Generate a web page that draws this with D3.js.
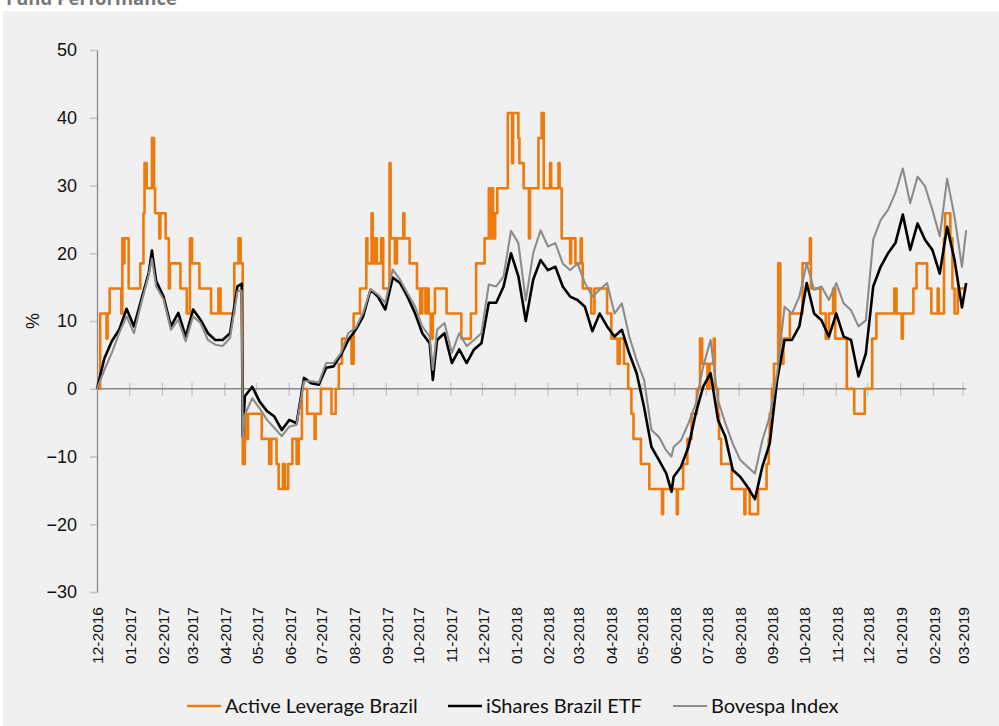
<!DOCTYPE html>
<html>
<head>
<meta charset="utf-8">
<script src="https://cdn.jsdelivr.net/npm/d3@7"></script>
<style>
  body { margin: 0; background: #fff; }
  svg { display: block; }
</style>
</head>
<body>
<div id="chart"></div>
<script>
const parseDate = d3.timeParse("%Y-%m-%d");

// Cumulative performance in %, weekly readings starting 2016-12-01
const weeklyStart = "2016-12-01";
const weeklyCount = 118;

const ishares = [
  0, 4.5, 7.0, 8.7, 11.8, 9.2, 13.2, 17.1, 15.9, 13.6,
  9.2, 11.2, 7.7, 11.7, 10.2, 8.2, 7.2, 7.2, 8.2, 15.1,
  -1.1, 0.3, -1.9, -3.3, -4.1, -6.1, -4.6, -5.1, 1.6, 0.8,
  0.6, 3.1, 3.3, 5.0, 7.2, 8.7, 10.7, 14.6, 13.6, 11.7,
  16.4, 15.6, 13.6, 11.2, 8.2, 6.7, 7.2, 8.2, 3.8, 5.8,
  3.8, 5.8, 6.7, 12.7, 12.7, 15.1, 20.0, 16.6, 10.0, 16.1,
  19.0, 17.5, 18.0, 15.1, 13.6, 13.1, 12.1, 8.5, 11.1, 9.2,
  7.7, 8.7, 5.2, 2.3, -2.7, -8.6, -10.5, -12.5, -13.0, -11.5,
  -8.6, -3.6, 0.3, 2.3, -4.6, -7.1, -12.0, -13.0, -14.5, -16.3,
  -11.5, -8.1, 1.3, 7.2, 7.2, 9.2, 15.6, 11.1, 10.1, 7.7,
  11.1, 7.7, 7.2, 1.8, 5.2, 15.1, 18.0, 20.0, 21.5, 25.7,
  20.5, 24.4, 22.0, 20.5, 17.0, 23.9, 19.0, 12.0
];

const bovespa = [
  0, 2.8, 5.3, 8.2, 10.7, 8.2, 12.7, 16.8, 15.1, 13.2,
  8.7, 10.2, 7.0, 10.7, 9.7, 7.2, 6.5, 6.3, 7.5, 14.4,
  -3.8, -1.4, -2.9, -4.6, -5.8, -7.0, -5.6, -5.3, 1.1, 1.1,
  0.9, 3.8, 3.8, 5.3, 8.2, 9.0, 11.2, 14.7, 13.9, 12.7,
  17.6, 16.1, 14.1, 12.2, 9.2, 7.7, 8.7, 9.7, 5.3, 8.2,
  6.3, 7.2, 8.2, 15.4, 15.1, 16.6, 23.3, 21.5, 13.0, 20.0,
  23.4, 21.0, 21.5, 18.5, 17.5, 18.5, 15.6, 13.6, 14.6, 15.6,
  11.1, 12.6, 7.7, 4.2, 1.3, -6.1, -7.1, -9.1, -8.6, -7.6,
  -5.1, -2.2, 3.3, 7.2, -1.7, -5.1, -8.1, -10.5, -11.5, -12.5,
  -7.6, -4.1, 2.3, 12.1, 11.1, 13.6, 18.5, 14.6, 15.1, 13.1,
  15.6, 12.6, 11.6, 9.2, 10.1, 22.0, 24.9, 26.4, 28.9, 32.5,
  27.4, 31.3, 29.9, 26.4, 22.5, 31.0, 25.4, 18.0
];

// off-grid days: peaks and troughs the weekly grid misses, the April 2017 crash, the last close
const extraDates = ["2017-01-22", "2017-04-17", "2017-04-18", "2017-10-15", "2018-05-29", "2019-03-04"];
const isharesExtra = [20.4, 15.5, -7.0, 1.3, -15.2, 15.6];
const bovespaExtra = [19.2, 14.5, -7.5, 2.8, -10.0, 23.4];

// the leveraged fund only moves in steps, so just the days it changed
const activeSteps = [
  ["2016-12-01", 0], ["2016-12-04", 11.1], ["2016-12-10", 7.4], ["2016-12-11", 11.1],
  ["2016-12-13", 14.8], ["2016-12-24", 11.1], ["2016-12-25", 22.2], ["2016-12-26", 18.5],
  ["2016-12-27", 22.2], ["2016-12-31", 14.8], ["2017-01-11", 18.5], ["2017-01-14", 25.9],
  ["2017-01-15", 33.3], ["2017-01-17", 29.6], ["2017-01-22", 37.0], ["2017-01-24", 29.6],
  ["2017-01-25", 25.9], ["2017-01-29", 22.2], ["2017-01-30", 25.9], ["2017-02-04", 22.2],
  ["2017-02-07", 14.8], ["2017-02-08", 18.5], ["2017-02-18", 14.8], ["2017-02-24", 11.1],
  ["2017-02-27", 22.2], ["2017-03-01", 18.5], ["2017-03-08", 14.8], ["2017-03-19", 11.1],
  ["2017-03-26", 14.8], ["2017-03-28", 11.1], ["2017-04-10", 18.5], ["2017-04-14", 22.2],
  ["2017-04-16", 18.5], ["2017-04-18", -11.1], ["2017-04-20", -3.7], ["2017-04-22", -7.4],
  ["2017-04-23", -3.7], ["2017-05-06", -7.4], ["2017-05-13", -11.1], ["2017-05-15", -7.4],
  ["2017-05-20", -11.1], ["2017-05-22", -14.8], ["2017-05-26", -11.1], ["2017-05-28", -14.8],
  ["2017-05-31", -11.1], ["2017-06-04", -7.4], ["2017-06-08", -11.1], ["2017-06-10", -7.4],
  ["2017-06-13", 0], ["2017-06-18", -3.7], ["2017-06-25", -7.4], ["2017-06-26", -3.7],
  ["2017-07-01", 0], ["2017-07-11", -3.7], ["2017-07-15", 0], ["2017-07-18", 3.7],
  ["2017-07-21", 7.4], ["2017-07-30", 3.7], ["2017-08-01", 11.1], ["2017-08-07", 14.8],
  ["2017-08-13", 22.2], ["2017-08-14", 18.5], ["2017-08-18", 25.9], ["2017-08-19", 18.5],
  ["2017-08-21", 22.2], ["2017-08-23", 18.5], ["2017-08-27", 22.2], ["2017-08-29", 14.8],
  ["2017-09-04", 33.3], ["2017-09-05", 22.2], ["2017-09-09", 18.5], ["2017-09-11", 22.2],
  ["2017-09-17", 25.9], ["2017-09-18", 22.2], ["2017-09-23", 18.5], ["2017-09-30", 14.8],
  ["2017-10-03", 11.1], ["2017-10-05", 14.8], ["2017-10-08", 11.1], ["2017-10-09", 14.8],
  ["2017-10-11", 11.1], ["2017-10-13", 7.4], ["2017-10-15", 11.1], ["2017-10-17", 14.8],
  ["2017-10-28", 11.1], ["2017-11-11", 7.4], ["2017-11-20", 11.1], ["2017-11-25", 18.5],
  ["2017-12-03", 22.2], ["2017-12-07", 29.6], ["2017-12-08", 22.2], ["2017-12-10", 29.6],
  ["2017-12-11", 22.2], ["2017-12-13", 25.9], ["2017-12-15", 29.6], ["2017-12-25", 40.7],
  ["2017-12-29", 33.3], ["2017-12-30", 40.7], ["2018-01-04", 37.0], ["2018-01-05", 33.3],
  ["2018-01-09", 29.6], ["2018-01-14", 22.2], ["2018-01-15", 29.6], ["2018-01-23", 37.0],
  ["2018-01-26", 40.7], ["2018-01-28", 29.6], ["2018-02-03", 33.3], ["2018-02-04", 29.6],
  ["2018-02-11", 33.3], ["2018-02-12", 29.6], ["2018-02-14", 22.2], ["2018-02-22", 18.5],
  ["2018-02-23", 22.2], ["2018-02-27", 18.5], ["2018-03-04", 22.2], ["2018-03-05", 18.5],
  ["2018-03-06", 14.8], ["2018-03-14", 11.1], ["2018-03-17", 14.8], ["2018-03-29", 11.1],
  ["2018-04-02", 7.4], ["2018-04-08", 3.7], ["2018-04-10", 7.4], ["2018-04-14", 3.7],
  ["2018-04-18", 0], ["2018-04-21", -3.7], ["2018-04-23", -7.4], ["2018-04-30", -11.1],
  ["2018-05-08", -14.8], ["2018-05-20", -18.5], ["2018-05-21", -14.8], ["2018-06-03", -18.5],
  ["2018-06-04", -14.8], ["2018-06-09", -11.1], ["2018-06-13", -7.4], ["2018-06-17", -3.7],
  ["2018-06-22", 0], ["2018-06-25", 7.4], ["2018-06-27", 3.7], ["2018-07-02", 0],
  ["2018-07-04", 3.7], ["2018-07-08", 7.4], ["2018-07-09", 0], ["2018-07-12", -3.7],
  ["2018-07-13", -7.4], ["2018-07-15", -11.1], ["2018-07-25", -14.8], ["2018-08-06", -18.5],
  ["2018-08-07", -14.8], ["2018-08-11", -18.5], ["2018-08-19", -14.8], ["2018-08-27", -11.1],
  ["2018-08-29", -7.4], ["2018-08-30", -3.7], ["2018-09-01", 0], ["2018-09-03", 3.7],
  ["2018-09-07", 18.5], ["2018-09-09", 3.7], ["2018-09-12", 7.4], ["2018-09-18", 11.1],
  ["2018-09-30", 18.5], ["2018-10-07", 22.2], ["2018-10-08", 14.8], ["2018-10-17", 11.1],
  ["2018-10-22", 7.4], ["2018-10-25", 11.1], ["2018-10-29", 14.8], ["2018-10-31", 7.4],
  ["2018-11-11", 0], ["2018-11-18", -3.7], ["2018-11-28", 0], ["2018-12-05", 7.4],
  ["2018-12-09", 11.1], ["2018-12-26", 14.8], ["2018-12-28", 11.1], ["2019-01-02", 7.4],
  ["2019-01-03", 11.1], ["2019-01-13", 14.8], ["2019-01-16", 18.5], ["2019-01-26", 14.8],
  ["2019-01-30", 11.1], ["2019-02-05", 14.8], ["2019-02-06", 11.1], ["2019-02-11", 22.2],
  ["2019-02-12", 25.9], ["2019-02-17", 22.2], ["2019-02-19", 14.8], ["2019-02-21", 11.1],
  ["2019-02-24", 14.8], ["2019-03-03", 14.8]
];

const yTicks = [-30, -20, -10, 0, 10, 20, 30, 40, 50];
const xStart = "2016-12-01";
const xEnd = "2019-03-01";

const seriesNames = ["Active Leverage Brazil", "iShares Brazil ETF", "Bovespa Index"];
const seriesColors = ["#ee7a0c", "#000000", "#8c8c8c"];
const seriesWidths = [2.6, 2.6, 2.1];

const config = {
  width: 999,
  height: 726,
  margin: { top: 50, left: 97 },
  innerWidth: 866,
  innerHeight: 542,
  legendX: [187, 448, 673],
  legendY: 706,
};

// build the weekly grid + the extra days into one sorted list
function weeklySeries(values, extras) {
  const start = parseDate(weeklyStart);
  const pts = d3.range(weeklyCount).map((i) => ({
    date: d3.timeDay.offset(start, 7 * i),
    value: values[i],
  }));
  extraDates.forEach((d, i) => pts.push({ date: parseDate(d), value: extras[i] }));
  return pts.sort((a, b) => a.date - b.date);
}

const active = activeSteps.map(([d, v]) => ({ date: parseDate(d), value: v }));
const series = [active, weeklySeries(ishares, isharesExtra), weeklySeries(bovespa, bovespaExtra)];

const svg = d3
  .select("#chart")
  .append("svg")
  .attr("width", config.width)
  .attr("height", config.height);

// title, mostly hidden behind the top of the frame like in the source
svg
  .append("text")
  .attr("x", 6)
  .attr("y", 5)
  .attr("font-family", "'Open Sans', sans-serif")
  .attr("font-weight", "bold")
  .attr("font-size", 18.5)
  .attr("fill", "#777")
  .text("Fund Performance");

svg
  .append("rect")
  .attr("x", 3)
  .attr("y", 11)
  .attr("width", config.width - 3)
  .attr("height", config.height - 11)
  .attr("fill", "#f0f0f0");

const g = svg
  .append("g")
  .attr("transform", `translate(${config.margin.left},${config.margin.top})`);

const x = d3
  .scaleTime()
  .domain([parseDate(xStart), parseDate(xEnd)])
  .range([0, config.innerWidth]);

const y = d3.scaleLinear().domain([-30, 50]).range([config.innerHeight, 0]);

// y axis
const yAxis = g
  .append("g")
  .call(d3.axisLeft(y).tickValues(yTicks).tickSize(7).tickSizeOuter(0).tickPadding(13));
yAxis.select(".domain").attr("stroke", "#888").attr("stroke-width", 1.3);
yAxis.selectAll(".tick line").attr("stroke", "#c4c4c4").attr("stroke-width", 1.6);
yAxis
  .selectAll(".tick text")
  .attr("font-family", "'Liberation Sans', Arial, sans-serif")
  .attr("font-size", 18)
  .attr("fill", "#111");

svg
  .append("text")
  .attr("transform", "translate(33,321) rotate(-90)")
  .attr("text-anchor", "middle")
  .attr("dy", "0.35em")
  .attr("font-family", "'Liberation Sans', Arial, sans-serif")
  .attr("font-size", 18)
  .attr("fill", "#111")
  .text("%");

// zero line with month ticks
const months = d3.timeMonth.range(parseDate(xStart), d3.timeDay.offset(parseDate(xEnd), 1));
const y0 = y(0);

g.append("g")
  .selectAll("line")
  .data(months.slice(1))
  .join("line")
  .attr("x1", (d) => x(d))
  .attr("x2", (d) => x(d))
  .attr("y1", y0 - 6)
  .attr("y2", y0 + 7)
  .attr("stroke", "#c4c4c4")
  .attr("stroke-width", 1.3);

g.append("line")
  .attr("x1", 0)
  .attr("x2", x(parseDate("2019-03-04")))
  .attr("y1", y0)
  .attr("y2", y0)
  .attr("stroke", "#888")
  .attr("stroke-width", 1.3);

g.append("g")
  .selectAll("text")
  .data(months)
  .join("text")
  .attr("transform", (d) => `translate(${x(d) + 1},${config.innerHeight + 15}) rotate(-90)`)
  .attr("text-anchor", "end")
  .attr("dy", "0.35em")
  .attr("font-family", "'Liberation Sans', Arial, sans-serif")
  .attr("font-size", 15.5)
  .attr("fill", "#111")
  .text(d3.timeFormat("%m-%Y"));

// the three lines
const line = d3
  .line()
  .x((d) => x(d.date))
  .y((d) => y(d.value));

series.forEach((s, i) => {
  g.append("path")
    .datum(s)
    .attr("fill", "none")
    .attr("stroke", seriesColors[i])
    .attr("stroke-width", seriesWidths[i])
    .attr("stroke-linejoin", "round")
    .attr("d", line.curve(i === 0 ? d3.curveStepAfter : d3.curveLinear));
});

// legend
seriesNames.forEach((name, i) => {
  const item = svg
    .append("g")
    .attr("transform", `translate(${config.legendX[i]},${config.legendY})`);
  item
    .append("line")
    .attr("x1", 0)
    .attr("x2", 34)
    .attr("stroke", seriesColors[i])
    .attr("stroke-width", i === 2 ? 2 : 2.6);
  item
    .append("text")
    .attr("x", 38)
    .attr("dy", "0.35em")
    .attr("font-family", "Lato, sans-serif")
    .attr("font-size", 20)
    .attr("fill", "#111")
    .text(name);
});
</script>
</body>
</html>
